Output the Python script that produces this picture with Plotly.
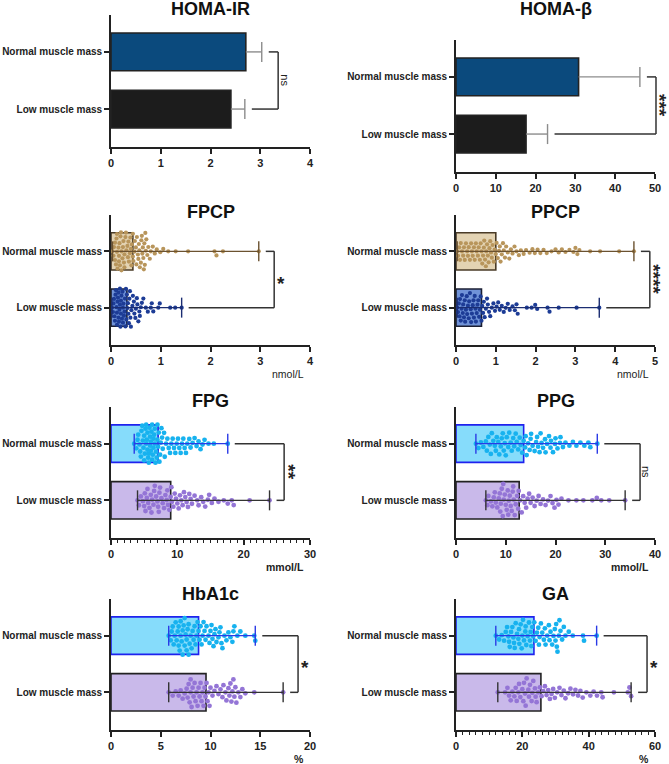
import math
import plotly.graph_objects as go

W, H = 669, 764
INK = "#222222"
FONT = "Liberation Sans, Arial, sans-serif"

# ── data ──────────────────────────────────────────────────────
cats = ["Low muscle mass", "Normal muscle mass"]   # y = 0, 1

# order inside the small arrays: [normal, low]
homa_ir_mean = [2.71, 2.41]
homa_ir_sd = [0.32, 0.28]
homa_b_mean = [30.8, 17.6]
homa_b_sd = [15.4, 5.4]

fpcp_bar = [0.44, 0.32]
fpcp_normal = [0.03, 0.05, 0.06, 0.08, 0.08, 0.10, 0.11, 0.12, 0.12, 0.13, 0.15, 0.16, 0.16,
               0.17, 0.18, 0.19, 0.20, 0.21, 0.21, 0.23, 0.24, 0.25, 0.26, 0.27, 0.27, 0.29,
               0.30, 0.31, 0.33, 0.34, 0.35, 0.36, 0.38, 0.39, 0.40, 0.41, 0.42, 0.44, 0.44,
               0.45, 0.47, 0.48, 0.50, 0.51, 0.52, 0.54, 0.55, 0.56, 0.57, 0.58, 0.60, 0.61,
               0.62, 0.63, 0.64, 0.65, 0.66, 0.67, 0.68, 0.69, 0.70, 0.71, 0.73, 0.75, 0.78,
               0.80, 0.84, 0.88, 0.92, 0.99, 1.05, 1.15, 1.30, 1.55, 2.08, 2.12, 2.25, 2.97]
fpcp_low = [0.02, 0.04, 0.05, 0.06, 0.07, 0.08, 0.09, 0.10, 0.11, 0.12, 0.12, 0.13, 0.14, 0.15,
            0.15, 0.16, 0.17, 0.18, 0.18, 0.19, 0.20, 0.20, 0.21, 0.22, 0.23, 0.24, 0.24, 0.25,
            0.26, 0.27, 0.28, 0.29, 0.30, 0.31, 0.32, 0.33, 0.34, 0.35, 0.36, 0.37, 0.38, 0.39,
            0.40, 0.41, 0.43, 0.44, 0.46, 0.47, 0.49, 0.50, 0.52, 0.53, 0.55, 0.57, 0.58, 0.60,
            0.62, 0.65, 0.70, 0.74, 0.80, 0.82, 0.85, 0.95, 0.98, 1.19, 1.29, 1.42]

ppcp_bar = [1.00, 0.64]
ppcp_normal = [0.03, 0.05, 0.08, 0.10, 0.12, 0.15, 0.18, 0.20, 0.22, 0.25, 0.28, 0.30, 0.32,
               0.35, 0.38, 0.40, 0.42, 0.45, 0.47, 0.50, 0.52, 0.55, 0.57, 0.60, 0.62, 0.64,
               0.66, 0.68, 0.70, 0.71, 0.73, 0.75, 0.76, 0.78, 0.80, 0.82, 0.84, 0.86, 0.88,
               0.90, 0.92, 0.95, 0.97, 1.00, 1.02, 1.05, 1.08, 1.10, 1.12, 1.15, 1.18, 1.20,
               1.23, 1.26, 1.30, 1.34, 1.38, 1.42, 1.47, 1.52, 1.58, 1.63, 1.70, 1.76, 1.85,
               1.92, 1.98, 2.05, 2.12, 2.20, 2.28, 2.40, 2.50, 2.58, 2.66, 2.75, 2.85, 2.95,
               3.00, 3.05, 3.10, 3.37, 3.62, 4.10, 4.47]
ppcp_low = [0.03, 0.05, 0.07, 0.09, 0.10, 0.12, 0.14, 0.15, 0.17, 0.18, 0.20, 0.22, 0.23, 0.25,
            0.27, 0.28, 0.30, 0.32, 0.33, 0.35, 0.37, 0.38, 0.40, 0.42, 0.44, 0.45, 0.47, 0.49,
            0.50, 0.52, 0.54, 0.56, 0.58, 0.60, 0.62, 0.64, 0.66, 0.68, 0.70, 0.72, 0.75, 0.78,
            0.80, 0.83, 0.86, 0.90, 0.94, 0.98, 1.02, 1.06, 1.10, 1.15, 1.20, 1.25, 1.30, 1.35,
            1.42, 1.48, 1.52, 1.55, 1.78, 1.90, 1.99, 2.04, 2.30, 2.35, 2.58, 3.03, 3.60]

fpg_bar = [7.1, 9.0]
fpg_normal = [3.5, 3.8, 4.0, 4.1, 4.3, 4.4, 4.5, 4.6, 4.7, 4.8, 4.9, 5.0, 5.0, 5.1, 5.2, 5.3,
              5.3, 5.4, 5.5, 5.5, 5.6, 5.7, 5.7, 5.8, 5.9, 5.9, 6.0, 6.0, 6.1, 6.2, 6.2, 6.3,
              6.4, 6.4, 6.5, 6.6, 6.6, 6.7, 6.8, 6.9, 7.0, 7.0, 7.1, 7.2, 7.3, 7.4, 7.5, 7.6,
              7.7, 7.8, 8.0, 8.1, 8.3, 8.5, 8.7, 8.9, 9.1, 9.3, 9.5, 9.7, 9.9, 10.1, 10.3,
              10.5, 10.7, 10.9, 11.1, 11.3, 11.5, 11.8, 12.0, 12.3, 12.6, 12.9, 13.2, 13.5,
              13.8, 14.1, 14.7, 15.5, 17.6]
fpg_low = [4.0, 4.2, 4.5, 4.8, 5.0, 5.1, 5.2, 5.4, 5.5, 5.6, 5.8, 6.0, 6.1, 6.2, 6.4, 6.5, 6.6,
           6.8, 7.0, 7.1, 7.2, 7.3, 7.4, 7.6, 7.8, 8.0, 8.2, 8.4, 8.5, 8.6, 8.8, 9.0, 9.1, 9.2,
           9.4, 9.6, 9.8, 10.0, 10.2, 10.4, 10.6, 10.8, 11.0, 11.2, 11.4, 11.6, 11.8, 12.0,
           12.2, 12.6, 13.0, 13.2, 13.6, 13.9, 14.2, 14.6, 14.8, 15.2, 15.6, 16.2, 17.0, 17.6,
           18.2, 18.5, 20.9, 23.9]

ppg_bar = [13.6, 12.7]
ppg_normal = [4.0, 4.5, 5.0, 5.5, 6.0, 6.2, 6.5, 6.8, 7.0, 7.2, 7.5, 7.8, 8.0, 8.2, 8.5, 8.7,
              9.0, 9.2, 9.4, 9.6, 9.8, 10.0, 10.2, 10.5, 10.7, 11.0, 11.2, 11.5, 11.7, 12.0,
              12.2, 12.5, 12.8, 13.0, 13.3, 13.6, 13.9, 14.0, 14.2, 14.5, 14.8, 15.0, 15.1,
              15.4, 15.8, 16.1, 16.3, 16.5, 16.8, 17.0, 17.2, 17.5, 17.9, 18.0, 18.3, 18.7,
              19.0, 19.1, 19.5, 19.9, 20.0, 20.4, 20.9, 21.0, 21.5, 22.0, 22.8, 23.5, 24.2,
              25.0, 25.8, 26.6, 27.0, 28.4]
ppg_low = [6.0, 6.3, 6.5, 7.0, 7.3, 7.6, 7.8, 8.0, 8.3, 8.6, 8.8, 8.9, 9.0, 9.2, 9.4, 9.5, 9.6,
           9.8, 10.0, 10.2, 10.4, 10.5, 10.6, 10.8, 11.0, 11.2, 11.4, 11.5, 11.6, 11.8, 12.0,
           12.3, 12.5, 12.6, 12.9, 13.2, 13.5, 13.8, 14.1, 14.4, 14.7, 15.0, 15.4, 15.8, 16.2,
           16.6, 17.0, 17.5, 18.0, 18.5, 19.0, 19.4, 19.8, 20.2, 20.6, 21.2, 22.6, 24.2, 25.6,
           27.4, 28.3, 29.2, 30.8, 34.0]

hba1c_bar = [8.8, 9.55]
hba1c_normal = [5.8, 6.0, 6.1, 6.2, 6.3, 6.4, 6.5, 6.6, 6.7, 6.8, 6.8, 6.9, 7.0, 7.0, 7.1, 7.2,
                7.2, 7.3, 7.4, 7.4, 7.5, 7.6, 7.6, 7.7, 7.8, 7.8, 7.9, 8.0, 8.1, 8.2, 8.3, 8.4,
                8.5, 8.6, 8.7, 8.8, 8.9, 9.0, 9.1, 9.2, 9.3, 9.4, 9.5, 9.6, 9.8, 9.9, 10.0, 10.1,
                10.2, 10.3, 10.4, 10.5, 10.6, 10.8, 10.9, 11.0, 11.1, 11.2, 11.4, 11.6, 11.8,
                12.0, 12.2, 12.3, 12.4, 12.7, 13.0, 13.5, 14.4, 14.5]
hba1c_low = [5.8, 6.2, 6.5, 6.8, 7.0, 7.2, 7.4, 7.6, 7.7, 7.8, 7.9, 8.0, 8.0, 8.1, 8.2, 8.3,
             8.4, 8.5, 8.6, 8.7, 8.8, 8.9, 9.0, 9.1, 9.2, 9.3, 9.4, 9.5, 9.6, 9.7, 9.8, 9.9,
             10.0, 10.2, 10.4, 10.6, 10.8, 11.0, 11.2, 11.3, 11.5, 11.6, 11.8, 11.9, 12.0,
             12.1, 12.2, 12.3, 12.4, 12.5, 12.6, 12.8, 13.0, 13.2, 13.5, 14.4, 17.3]

ga_bar = [23.5, 25.6]
ga_normal = [12.0, 13.0, 13.8, 14.5, 15.0, 15.4, 15.8, 16.0, 16.2, 16.6, 17.0, 17.3, 17.5, 17.7,
             18.0, 18.4, 18.8, 19.0, 19.1, 19.5, 19.8, 20.0, 20.2, 20.5, 20.9, 21.0, 21.2,
             21.6, 22.0, 22.3, 22.5, 22.7, 23.0, 23.3, 23.6, 24.0, 24.4, 24.8, 25.0, 25.2,
             25.6, 26.0, 26.5, 26.8, 27.0, 27.5, 28.0, 28.2, 28.5, 29.0, 29.4, 29.8, 30.0,
             30.2, 30.4, 30.6, 31.0, 31.2, 31.5, 32.0, 32.5, 33.0, 34.0, 35.2, 38.3, 38.6, 42.4]
ga_low = [12.6, 14.8, 15.5, 16.0, 16.5, 17.0, 17.6, 18.0, 18.3, 18.8, 19.0, 19.4, 20.0, 20.3,
          20.5, 20.8, 21.0, 21.3, 21.8, 22.0, 22.3, 22.8, 23.0, 23.3, 23.8, 24.0, 24.3, 24.8,
          25.3, 25.8, 26.3, 26.8, 27.3, 27.8, 28.3, 28.8, 29.3, 29.8, 30.5, 31.2, 31.8, 32.5,
          33.0, 33.8, 34.5, 35.3, 36.0, 36.8, 37.5, 38.2, 39.3, 40.5, 41.5, 42.5, 43.8, 44.2,
          47.6, 51.8, 52.3, 52.8]

# ── styles ───────────────────────────────────────────────────
HOMA_STYLE = dict(fill=["#0b4a7d", "#1c1c1c"], edge=[INK, INK], err="#8c8c8c")
PCP_STYLE = dict(fill=["#e3d3b3", "#7093d8"], edge=["#4a3b27", "#1b1f33"],
                 dot=["#b8955b", "#1d3c96"], err=["#6b5230", "#1b2d72"], size=4.2)
GLU_STYLE = dict(fill=["#86dcfb", "#c9b9ea"], edge=["#1f22ee", INK],
                 dot=["#17b2ef", "#9475d6"], err=["#2a3ae6", "#333333"], size=4.8)

LEFT, RIGHT = (111, 310), (456, 655)

panels = [
    dict(title="HOMA-IR", col=LEFT, top=15, bottom=147, title_y=9.5, xmax=4, dtick=1,
         bars=homa_ir_mean, sd=homa_ir_sd, style=HOMA_STYLE, brk=3.36, sig="ns"),
    dict(title="HOMA-β", col=RIGHT, top=40, bottom=172, title_y=9.5, xmax=50, dtick=10,
         bars=homa_b_mean, sd=homa_b_sd, style=HOMA_STYLE, brk=50.25, sig="***"),
    dict(title="FPCP", col=LEFT, top=215, bottom=345, title_y=212, xmax=4, dtick=1,
         bars=fpcp_bar, pts=[fpcp_normal, fpcp_low], style=PCP_STYLE, brk=3.28, sig="*",
         unit="nmol/L", unit_bold=False),
    dict(title="PPCP", col=RIGHT, top=215, bottom=345, title_y=212, xmax=5, dtick=1,
         bars=ppcp_bar, pts=[ppcp_normal, ppcp_low], style=PCP_STYLE, brk=4.87, sig="****",
         unit="nmol/L", unit_bold=False),
    dict(title="FPG", col=LEFT, top=407, bottom=538, title_y=401.5, xmax=30, dtick=10, minor=1,
         bars=fpg_bar, pts=[fpg_normal, fpg_low], style=GLU_STYLE, brk=26.1, sig="**",
         unit="mmol/L", unit_bold=True),
    dict(title="PPG", col=RIGHT, top=407, bottom=538, title_y=401.5, xmax=40, dtick=10,
         bars=ppg_bar, pts=[ppg_normal, ppg_low], style=GLU_STYLE, brk=37.0, sig="ns",
         unit="mmol/L", unit_bold=True),
    dict(title="HbA1c", col=LEFT, top=599, bottom=730, title_y=594, xmax=20, dtick=5,
         bars=hba1c_bar, pts=[hba1c_normal, hba1c_low], style=GLU_STYLE, brk=18.8, sig="*",
         unit="%", unit_bold=True),
    dict(title="GA", col=RIGHT, top=599, bottom=730, title_y=594, xmax=60, dtick=20, minor=2,
         bars=ga_bar, pts=[ga_normal, ga_low], style=GLU_STYLE, brk=57.6, sig="*",
         unit="%", unit_bold=True),
]

Y_RANGE = [-0.664, 1.646]
ROWS = [1, 0]          # normal on top, low below
SWARM_LIMIT = 19       # px, half height a swarm may use


def swarm(vals, px_x, px_y, d):
    """beeswarm: nearest free vertical slot; if none fits inside the limit,
    take the slot inside the limit that is furthest from its neighbours"""
    placed, offs = [], []
    for v in vals:
        x = v * px_x
        near = [(py, abs(x - px)) for px, py in placed if abs(x - px) < d]
        ivs = [(py - math.sqrt(d * d - dx * dx), py + math.sqrt(d * d - dx * dx))
               for py, dx in near]
        cands = [0.0] + [a for a, _ in ivs] + [b for _, b in ivs]
        flip = len(placed) % 2
        cands.sort(key=lambda c: (round(abs(c), 3), (c > 0) if flip else (c < 0)))
        best = None
        for c in cands:
            if abs(c) <= SWARM_LIMIT and all(not (a + 1e-6 < c < b - 1e-6) for a, b in ivs):
                best = c
                break
        if best is None:
            score, best = -1, 0.0
            steps = int(SWARM_LIMIT * 2) + 1
            for s in range(steps):
                c = -SWARM_LIMIT + s
                dmin = min(math.hypot(dx, c - py) for py, dx in near)
                if dmin > score:
                    score, best = dmin, c
        placed.append((x, best))
        offs.append(best / px_y)
    return offs


fig = go.Figure()
layout = dict(width=W, height=H, margin=dict(l=0, r=0, t=0, b=0, autoexpand=False),
              paper_bgcolor="white", plot_bgcolor="white", showlegend=False,
              font=dict(family=FONT, color=INK))
shapes, annots = [], []

for i, p in enumerate(panels, start=1):
    sid = "" if i == 1 else str(i)
    xa, ya = "x" + sid, "y" + sid
    x0, x1 = p["col"]
    px_x = (x1 - x0) / p["xmax"]
    px_y = (p["bottom"] - p["top"]) / (Y_RANGE[1] - Y_RANGE[0])
    cap = 10 / px_y
    st = p["style"]

    xaxis = dict(domain=[x0 / W, x1 / W], range=[0, p["xmax"]], anchor=ya, automargin=False,
                 showline=True, linecolor=INK, linewidth=1.6, ticks="outside",
                 ticklen=5, tickwidth=1.6, tickcolor=INK, tick0=0, dtick=p["dtick"],
                 showgrid=False, zeroline=False,
                 tickfont=dict(family=FONT, size=11, color=INK, weight="bold"))
    if p.get("minor"):
        xaxis["minor"] = dict(ticks="outside", ticklen=3, tickwidth=1.2,
                              tickcolor=INK, dtick=p["minor"], showgrid=False)
    layout["xaxis" + sid] = xaxis
    layout["yaxis" + sid] = dict(
        domain=[1 - p["bottom"] / H, 1 - p["top"] / H], range=Y_RANGE, anchor=xa,
        automargin=False, showline=True, linecolor=INK, linewidth=1.6, ticks="outside",
        ticklen=5, tickwidth=1.6, tickcolor=INK, tickvals=[0, 1], ticktext=cats,
        showgrid=False, zeroline=False,
        tickfont=dict(family=FONT, size=10, color=INK, weight="bold"))

    fig.add_trace(go.Bar(
        x=p["bars"], y=ROWS, orientation="h", width=0.66, xaxis=xa, yaxis=ya,
        marker=dict(color=st["fill"], line=dict(color=st["edge"], width=1.6)),
        hoverinfo="skip"))

    ends = []
    if "pts" in p:
        for k, vals in enumerate(p["pts"]):
            offs = swarm(vals, px_x, px_y, st["size"] + 0.3)
            fig.add_trace(go.Scatter(
                x=vals, y=[ROWS[k] + o for o in offs], mode="markers",
                xaxis=xa, yaxis=ya,
                marker=dict(size=st["size"], color=st["dot"][k], line=dict(width=0))))
        for k, vals in enumerate(p["pts"]):
            lo, hi, c = min(vals), max(vals), ROWS[k]
            fig.add_trace(go.Scatter(
                x=[lo, hi, None, lo, lo, None, hi, hi],
                y=[c, c, None, c - cap, c + cap, None, c - cap, c + cap],
                mode="lines", xaxis=xa, yaxis=ya,
                line=dict(color=st["err"][k], width=1.4)))
            ends.append(hi)
    else:
        for k, (m, s) in enumerate(zip(p["bars"], p["sd"])):
            c = ROWS[k]
            fig.add_trace(go.Scatter(
                x=[m, m + s, None, m + s, m + s], y=[c, c, None, c - cap, c + cap],
                mode="lines", xaxis=xa, yaxis=ya,
                line=dict(color=st["err"], width=1.4)))
            ends.append(m + s)

    # significance bracket
    xd = xa + " domain"
    xb = p["brk"] / p["xmax"]
    gap = 7 / (x1 - x0)
    line = dict(color="#333333", width=1.5)
    for k, e in enumerate(ends):
        shapes.append(dict(type="line", xref=xd, yref=ya, x0=e / p["xmax"] + gap, x1=xb,
                           y0=ROWS[k], y1=ROWS[k], line=line))
    shapes.append(dict(type="line", xref=xd, yref=ya, x0=xb, x1=xb, y0=1, y1=0, line=line))
    if p["sig"] == "ns":
        annots.append(dict(text="ns", xref=xd, yref=ya, x=xb, y=0.5, xshift=14,
                           textangle=90, showarrow=False,
                           font=dict(family=FONT, size=11, color=INK)))
    elif len(p["sig"]) == 1:
        annots.append(dict(text="*", xref=xd, yref=ya, x=xb, y=0.5, xshift=13, yshift=-4,
                           showarrow=False,
                           font=dict(family=FONT, size=19, color=INK, weight="bold")))
    else:
        annots.append(dict(text=p["sig"], xref=xd, yref=ya, x=xb, y=0.5, xshift=16,
                           textangle=90, showarrow=False,
                           font=dict(family=FONT, size=19, color=INK, weight="bold")))

    # title and unit
    annots.append(dict(text=p["title"], xref="paper", yref="paper",
                       x=(x0 + x1) / 2 / W, y=1 - p["title_y"] / H, xanchor="center",
                       yanchor="middle", showarrow=False,
                       font=dict(family=FONT, size=18, color="#111111", weight="bold")))
    if p.get("unit"):
        annots.append(dict(text=p["unit"], xref=xd, yref=ya + " domain", x=1, y=0,
                           xshift=-4, yshift=-29, xanchor="right", yanchor="middle",
                           showarrow=False,
                           font=dict(family=FONT, size=10.5, color=INK,
                                     weight="bold" if p["unit_bold"] else "normal")))

layout["shapes"] = shapes
layout["annotations"] = annots
fig.update_layout(**layout)
# the page body has a default 8px margin; drop it so the figure sits at the corner
fig.write_html("out.html", config={"displayModeBar": False},
               post_script="document.body.style.margin = '0px';")
